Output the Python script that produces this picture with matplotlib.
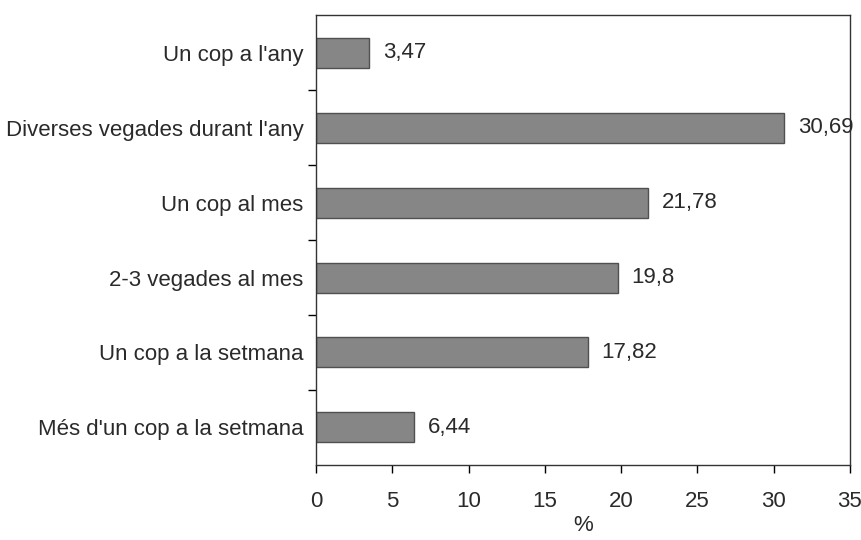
import matplotlib
matplotlib.use("Agg")
import matplotlib.pyplot as plt
import numpy as np

categories = ["Un cop a l'any", "Diverses vegades durant l'any", "Un cop al mes",
              "2-3 vegades al mes", "Un cop a la setmana", "Més d'un cop a la setmana"]
values = [3.47, 30.69, 21.78, 19.8, 17.82, 6.44]
value_labels = ["3,47", "30,69", "21,78", "19,8", "17,82", "6,44"]
xticks = [0, 5, 10, 15, 20, 25, 30, 35]

FS = 16
TC = '#2a2a2a'
plt.rcParams['font.family'] = ['Liberation Sans', 'DejaVu Sans']
fig = plt.figure(figsize=(8.61, 5.4), dpi=100)
ax = fig.add_axes([0.367, 0.139, 0.620, 0.833])

y = np.arange(len(categories))
ax.barh(y, values, height=0.4, color='#868686', edgecolor='#505050', linewidth=1.0)
for yi, v, lab in zip(y, values, value_labels):
    ax.text(v + 0.9, yi, lab, va='center', ha='left', fontsize=FS, color=TC)

ax.set_ylim(len(categories) - 0.5, -0.5)
ax.set_xlim(0, 35)
ax.set_yticks(y)
ax.set_yticklabels(categories, fontsize=FS, color=TC)
ax.tick_params(axis='y', which='major', length=0, pad=9)
ax.set_yticks(np.arange(0.5, len(categories) - 0.5, 1), minor=True)
ax.tick_params(axis='y', which='minor', length=6, width=1, direction='out')
ax.set_xticks(xticks)
ax.set_xticklabels([str(t) for t in xticks], fontsize=FS, color=TC)
ax.tick_params(axis='x', length=6, width=1, direction='out', pad=13)
ax.set_xlabel('%', fontsize=FS, color=TC, labelpad=2)
for s in ax.spines.values():
    s.set_color('#333333')
    s.set_linewidth(1.0)

fig.savefig('out.png', dpi=100)
